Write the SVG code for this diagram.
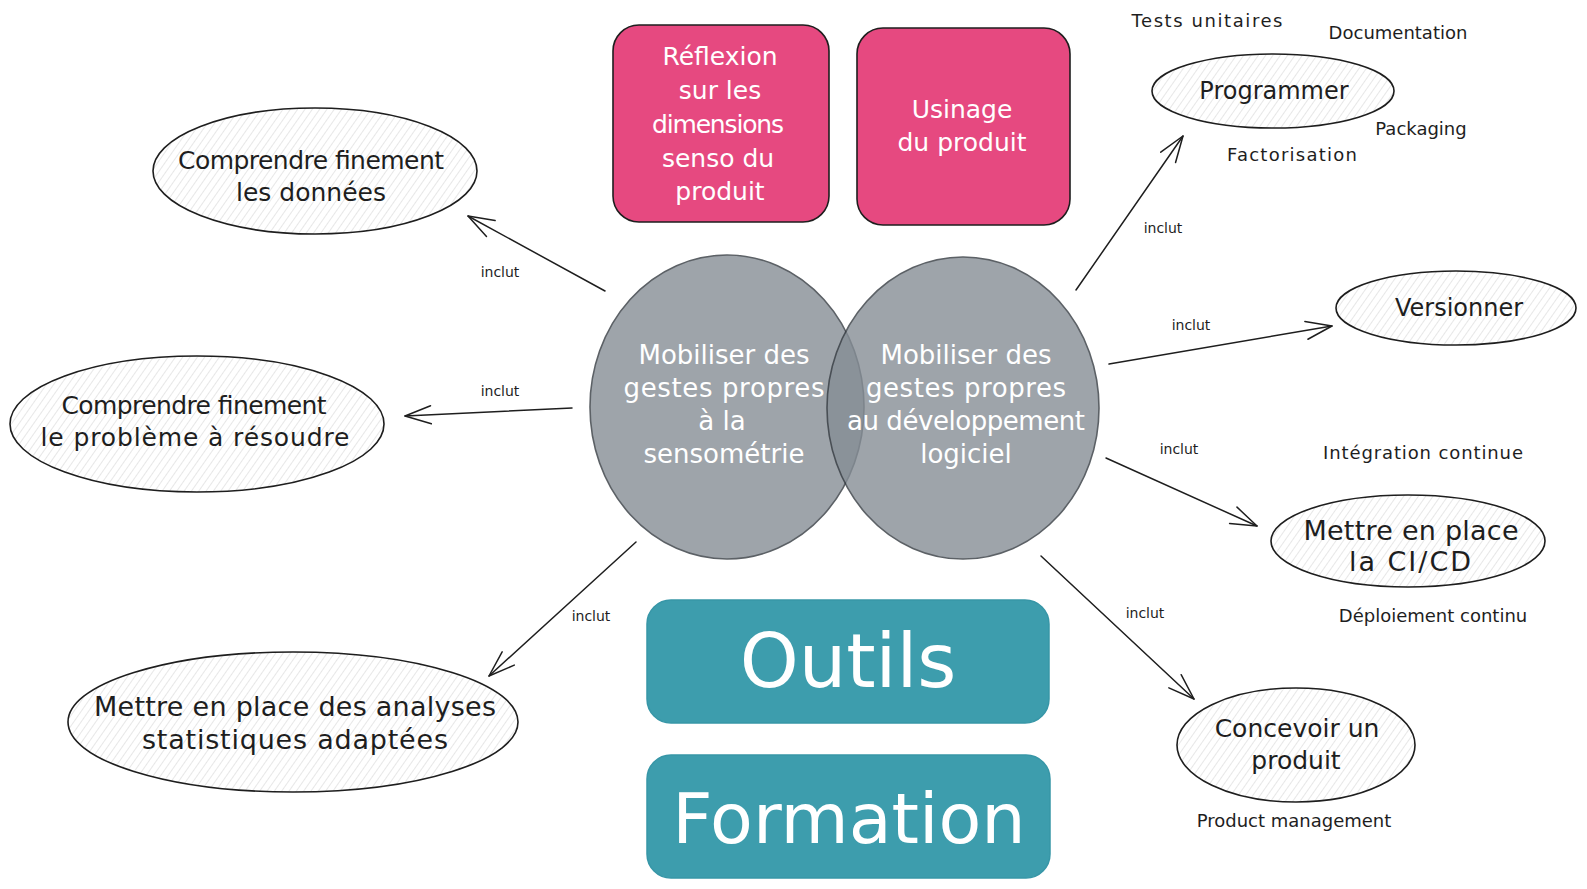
<svg xmlns="http://www.w3.org/2000/svg" width="1587" height="889" viewBox="0 0 1587 889">
<defs>
<pattern id="hatch" width="6" height="6" patternUnits="userSpaceOnUse" patternTransform="rotate(35)">
<line x1="0" y1="0" x2="0" y2="6" stroke="#c4c4c4" stroke-width="0.8"/>
</pattern>
<marker id="arr" markerUnits="userSpaceOnUse" markerWidth="32" markerHeight="28" refX="27" refY="14" orient="auto">
<path d="M1,5 L27,14 L1,23" fill="none" stroke="#1e1e1e" stroke-width="1.5" stroke-linecap="round" stroke-linejoin="round"/>
</marker>
<style>
.ell{fill:url(#hatch);stroke:#1e1e1e;stroke-width:1.6}
.circ{fill:#868e96;stroke:#343a40;stroke-width:1.6;opacity:0.8}
.pink{fill:#e64980;stroke:#1e1e1e;stroke-width:1.6}
.teal{fill:#3d9dad;stroke:#3796a7;stroke-width:1.5}
.conn{fill:none;stroke:#1e1e1e;stroke-width:1.5;stroke-linecap:round;marker-end:url(#arr)}
text{font-family:"DejaVu Sans","Liberation Sans",sans-serif;text-anchor:middle}
.dk{fill:#1e1e1e}
.wh{fill:#ffffff}
.t25{font-size:25px}
.t26{font-size:26px}
.t27{font-size:27px}
.t24{font-size:24px}
.t18{font-size:18px}
.t14{font-size:14px}
</style>
</defs>
<rect x="0" y="0" width="1587" height="889" fill="#ffffff"/>

<g id="connectors">
<path class="conn" d="M605,291 L468,216"/>
<path class="conn" d="M572,408 L405,416"/>
<path class="conn" d="M636,542 L489,676"/>
<path class="conn" d="M1076,290 L1183,136"/>
<path class="conn" d="M1109,364 L1332,326"/>
<path class="conn" d="M1106,458 L1257,526"/>
<path class="conn" d="M1041,556 L1194,699"/>
<text class="dk t14" x="500" y="277">inclut</text>
<text class="dk t14" x="500" y="396">inclut</text>
<text class="dk t14" x="591" y="621">inclut</text>
<text class="dk t14" x="1163" y="233">inclut</text>
<text class="dk t14" x="1191" y="330">inclut</text>
<text class="dk t14" x="1179" y="454">inclut</text>
<text class="dk t14" x="1145" y="618">inclut</text>
</g>

<g id="node-donnees">
<ellipse class="ell" cx="315" cy="171" rx="162" ry="63"/>
<text class="dk t25" x="311" y="169" textLength="266">Comprendre finement</text>
<text class="dk t25" x="311" y="201">les données</text>
</g>

<g id="node-probleme">
<ellipse class="ell" cx="197" cy="424" rx="187" ry="68"/>
<text class="dk t25" x="194" y="414" textLength="265">Comprendre finement</text>
<text class="dk t25" x="195" y="446" textLength="309">le problème à résoudre</text>
</g>

<g id="node-analyses">
<ellipse class="ell" cx="293" cy="722" rx="225" ry="70"/>
<text class="dk t27" x="295" y="716" textLength="402">Mettre en place des analyses</text>
<text class="dk t27" x="295" y="749" textLength="306">statistiques adaptées</text>
</g>

<g id="node-senso">
<ellipse class="circ" cx="727" cy="407" rx="137" ry="152"/>
</g>
<g id="node-dev">
<ellipse class="circ" cx="963" cy="408" rx="136" ry="151"/>
</g>
<g id="labels-circles">
<text class="wh t26" x="724" y="364">Mobiliser des</text>
<text class="wh t26" x="724" y="397" textLength="201">gestes propres</text>
<text class="wh t26" x="722" y="430">à la</text>
<text class="wh t26" x="724" y="463">sensométrie</text>
<text class="wh t26" x="966" y="364">Mobiliser des</text>
<text class="wh t26" x="966" y="397" textLength="200">gestes propres</text>
<text class="wh t26" x="966" y="430" textLength="238">au développement</text>
<text class="wh t26" x="966" y="463">logiciel</text>
</g>

<g id="node-reflexion">
<rect class="pink" x="613" y="25" width="216" height="197" rx="26"/>
<text class="wh t25" x="720" y="65">Réflexion</text>
<text class="wh t25" x="720" y="99">sur les</text>
<text class="wh t25" x="718" y="133" textLength="132">dimensions</text>
<text class="wh t25" x="718" y="167">senso du</text>
<text class="wh t25" x="720" y="200">produit</text>
</g>

<g id="node-usinage">
<rect class="pink" x="857" y="28" width="213" height="197" rx="26"/>
<text class="wh t25" x="962" y="118">Usinage</text>
<text class="wh t25" x="962" y="151">du produit</text>
</g>

<g id="node-outils">
<rect class="teal" x="647" y="600" width="402" height="123" rx="24"/>
<text class="wh" style="font-size:75px" x="848" y="687">Outils</text>
</g>

<g id="node-formation">
<rect class="teal" x="647" y="755" width="403" height="123" rx="24"/>
<text class="wh" style="font-size:70px" x="849" y="843">Formation</text>
</g>

<g id="node-programmer">
<ellipse class="ell" cx="1273" cy="91" rx="121" ry="37"/>
<text class="dk t24" x="1274" y="99">Programmer</text>
</g>

<g id="node-versionner">
<ellipse class="ell" cx="1456" cy="308" rx="120" ry="37"/>
<text class="dk t24" x="1459" y="316">Versionner</text>
</g>

<g id="node-cicd">
<ellipse class="ell" cx="1408" cy="541" rx="137" ry="46"/>
<text class="dk t27" x="1411" y="540" textLength="215">Mettre en place</text>
<text class="dk t27" x="1410" y="571" textLength="122">la CI/CD</text>
</g>

<g id="node-concevoir">
<ellipse class="ell" cx="1296" cy="745" rx="119" ry="57"/>
<text class="dk t25" x="1297" y="737">Concevoir un</text>
<text class="dk t25" x="1296" y="769">produit</text>
</g>

<g id="annotations">
<text class="dk t18" x="1207" y="27" textLength="151">Tests unitaires</text>
<text class="dk t18" x="1398" y="39">Documentation</text>
<text class="dk t18" x="1421" y="135">Packaging</text>
<text class="dk t18" x="1292" y="161" textLength="130">Factorisation</text>
<text class="dk t18" x="1423" y="459" textLength="200">Intégration continue</text>
<text class="dk t18" x="1433" y="622">Déploiement continu</text>
<text class="dk t18" x="1294" y="827">Product management</text>
</g>
</svg>
